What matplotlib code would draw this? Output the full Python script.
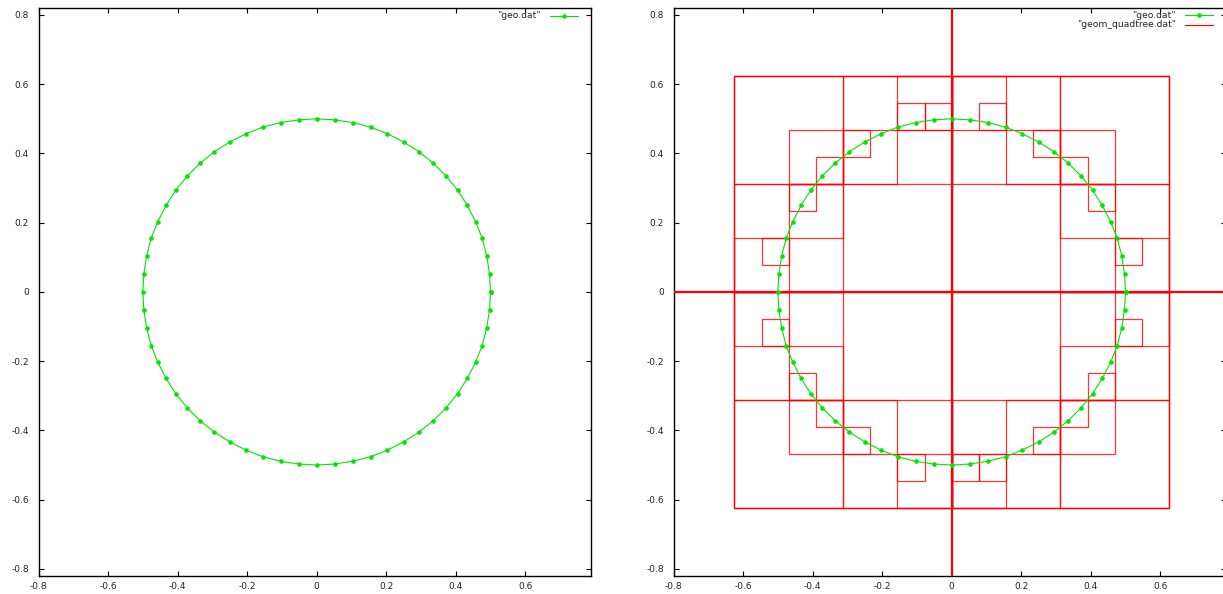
import matplotlib
matplotlib.use("Agg")
import matplotlib.pyplot as plt
from matplotlib.lines import Line2D
from matplotlib.patches import Rectangle

# ---- geo.dat : sampled circle (closed polyline) ----
geo_x = [0.5, 0.497, 0.489, 0.476, 0.457, 0.433, 0.405, 0.372, 0.335, 0.294, 0.25, 0.203, 0.155, 0.104, 0.052, 0.0,
         -0.052, -0.104, -0.155, -0.203, -0.25, -0.294, -0.335, -0.372, -0.405, -0.433, -0.457, -0.476, -0.489, -0.497, -0.5,
         -0.497, -0.489, -0.476, -0.457, -0.433, -0.405, -0.372, -0.335, -0.294, -0.25, -0.203, -0.155, -0.104, -0.052, 0.0,
         0.052, 0.104, 0.155, 0.203, 0.25, 0.294, 0.335, 0.372, 0.405, 0.433, 0.457, 0.476, 0.489, 0.497, 0.5]
geo_y = [0.0, 0.052, 0.104, 0.155, 0.203, 0.25, 0.294, 0.335, 0.372, 0.405, 0.433, 0.457, 0.476, 0.489, 0.497, 0.5,
         0.497, 0.489, 0.476, 0.457, 0.433, 0.405, 0.372, 0.335, 0.294, 0.25, 0.203, 0.155, 0.104, 0.052, 0.0,
         -0.052, -0.104, -0.155, -0.203, -0.25, -0.294, -0.335, -0.372, -0.405, -0.433, -0.457, -0.476, -0.489, -0.497, -0.5,
         -0.497, -0.489, -0.476, -0.457, -0.433, -0.405, -0.372, -0.335, -0.294, -0.25, -0.203, -0.155, -0.104, -0.052, 0.0]

# ---- geom_quadtree.dat : cells as (xmin, ymin, xmax, ymax) ----
cells_depth0 = [(-0.625, -0.625, 0.625, 0.625)]
cells_depth1 = [(-0.625, 0.0, 0.0, 0.625), (0.0, 0.0, 0.625, 0.625),
                (-0.625, -0.625, 0.0, 0.0), (0.0, -0.625, 0.625, 0.0)]
cells_depth2 = [(-0.625, 0.3125, -0.3125, 0.625), (-0.3125, 0.3125, 0.0, 0.625),
                (0.0, 0.3125, 0.3125, 0.625), (0.3125, 0.3125, 0.625, 0.625),
                (-0.625, 0.0, -0.3125, 0.3125), (0.3125, 0.0, 0.625, 0.3125),
                (-0.625, -0.3125, -0.3125, 0.0), (0.3125, -0.3125, 0.625, 0.0),
                (-0.625, -0.625, -0.3125, -0.3125), (-0.3125, -0.625, 0.0, -0.3125),
                (0.0, -0.625, 0.3125, -0.3125), (0.3125, -0.625, 0.625, -0.3125)]
cells_depth3 = [(-0.15625, 0.46875, 0.0, 0.625), (-0.3125, 0.3125, -0.15625, 0.46875),
                (-0.46875, 0.3125, -0.3125, 0.46875), (-0.46875, 0.15625, -0.3125, 0.3125),
                (-0.625, 0.0, -0.46875, 0.15625),
                (0.0, 0.46875, 0.15625, 0.625), (0.15625, 0.3125, 0.3125, 0.46875),
                (0.3125, 0.3125, 0.46875, 0.46875), (0.3125, 0.15625, 0.46875, 0.3125),
                (0.46875, 0.0, 0.625, 0.15625),
                (-0.15625, -0.625, 0.0, -0.46875), (-0.3125, -0.46875, -0.15625, -0.3125),
                (-0.46875, -0.46875, -0.3125, -0.3125), (-0.46875, -0.3125, -0.3125, -0.15625),
                (-0.625, -0.15625, -0.46875, 0.0),
                (0.0, -0.625, 0.15625, -0.46875), (0.15625, -0.46875, 0.3125, -0.3125),
                (0.3125, -0.46875, 0.46875, -0.3125), (0.3125, -0.3125, 0.46875, -0.15625),
                (0.46875, -0.15625, 0.625, 0.0)]
cells_depth4 = [(-0.15625, 0.46875, -0.078125, 0.546875), (-0.078125, 0.46875, 0.0, 0.546875),
                (-0.3125, 0.390625, -0.234375, 0.46875), (-0.390625, 0.3125, -0.3125, 0.390625),
                (-0.46875, 0.234375, -0.390625, 0.3125), (-0.546875, 0.078125, -0.46875, 0.15625),
                (0.078125, 0.46875, 0.15625, 0.546875),
                (0.234375, 0.390625, 0.3125, 0.46875), (0.3125, 0.3125, 0.390625, 0.390625),
                (0.390625, 0.234375, 0.46875, 0.3125), (0.46875, 0.078125, 0.546875, 0.15625),
                (-0.15625, -0.546875, -0.078125, -0.46875),
                (-0.3125, -0.46875, -0.234375, -0.390625), (-0.390625, -0.390625, -0.3125, -0.3125),
                (-0.46875, -0.3125, -0.390625, -0.234375), (-0.546875, -0.15625, -0.46875, -0.078125),
                (0.0, -0.546875, 0.078125, -0.46875), (0.078125, -0.546875, 0.15625, -0.46875),
                (0.234375, -0.46875, 0.3125, -0.390625), (0.3125, -0.390625, 0.390625, -0.3125),
                (0.390625, -0.3125, 0.46875, -0.234375), (0.46875, -0.15625, 0.546875, -0.078125)]
# splitting lines of the root, drawn across the whole view
split_x = [0.0]
split_y = [0.0]

# axis settings
xlim = (-0.8, 0.788)
ylim = (-0.819, 0.820)
xtick_values = [-0.8, -0.6, -0.4, -0.2, 0.0, 0.2, 0.4, 0.6]
xtick_labels = ["-0.8", "-0.6", "-0.4", "-0.2", "0", "0.2", "0.4", "0.6"]
ytick_values = [-0.8, -0.6, -0.4, -0.2, 0.0, 0.2, 0.4, 0.6, 0.8]
ytick_labels = ["-0.8", "-0.6", "-0.4", "-0.2", "0", "0.2", "0.4", "0.6", "0.8"]

GREEN = "#00e600"
RED = "#ff0000"
TXT = "#222222"
W, H = 1223, 594

plt.rcParams["font.family"] = ["DejaVu Sans"]
fig = plt.figure(figsize=(W / 100, H / 100), dpi=100)


def px_axes(left, top, right, bottom):
    return fig.add_axes([left / W, 1 - bottom / H, (right - left) / W, (bottom - top) / H])


def style(ax):
    ax.set_xlim(*xlim)
    ax.set_ylim(*ylim)
    ax.set_xticks(xtick_values)
    ax.set_xticklabels(xtick_labels)
    ax.set_yticks(ytick_values)
    ax.set_yticklabels(ytick_labels)
    ax.tick_params(direction="in", length=3.5, width=0.8, top=True, right=True,
                   labelsize=6.5, colors="black", labelcolor=TXT)
    ax.tick_params(axis="x", pad=4.5)
    ax.tick_params(axis="y", pad=7)
    for s in ax.spines.values():
        s.set_linewidth(1.0)
        s.set_color("black")


def plot_geo(ax):
    ax.plot(geo_x, geo_y, color=GREEN, lw=0.8, marker="o", ms=2.3,
            mec=GREEN, mfc=GREEN, zorder=5)


def key_entry(y_px, text_right_px, label, color, with_marker):
    fig.text(text_right_px / W, 1 - y_px / H, label, ha="right", va="center",
             fontsize=6.6, color=TXT)
    x0, x1 = text_right_px + 9, text_right_px + 37
    fig.add_artist(Line2D([x0 / W, x1 / W], [1 - y_px / H, 1 - y_px / H],
                          color=color, lw=0.8))
    if with_marker:
        xm = (x0 + x1) / 2
        fig.add_artist(Line2D([xm / W], [1 - y_px / H], color=color, marker="o",
                              ms=2.3, mec=color, mfc=color, lw=0))


# left panel: the sampled circle
ax1 = px_axes(38.5, 8, 590.7, 575.5)
style(ax1)
plot_geo(ax1)
key_entry(15.5, 541, '"geo.dat"', GREEN, True)

# right panel: circle with quadtree cells
ax2 = px_axes(673.5, 8, 1225.7, 575.5)
style(ax2)
for cells in (cells_depth0, cells_depth1, cells_depth2, cells_depth3, cells_depth4):
    for (xa, ya, xb, yb) in cells:
        ax2.add_patch(Rectangle((xa, ya), xb - xa, yb - ya, fill=False,
                                edgecolor=RED, lw=0.9, alpha=0.8, zorder=3))
for xv in split_x:
    ax2.axvline(xv, color=RED, lw=1.6, zorder=4)
for yv in split_y:
    ax2.axhline(yv, color=RED, lw=1.6, zorder=4)
plot_geo(ax2)
key_entry(15, 1176, '"geo.dat"', GREEN, True)
key_entry(24.5, 1176, '"geom_quadtree.dat"', RED, False)

fig.savefig("out.png", dpi=100)
